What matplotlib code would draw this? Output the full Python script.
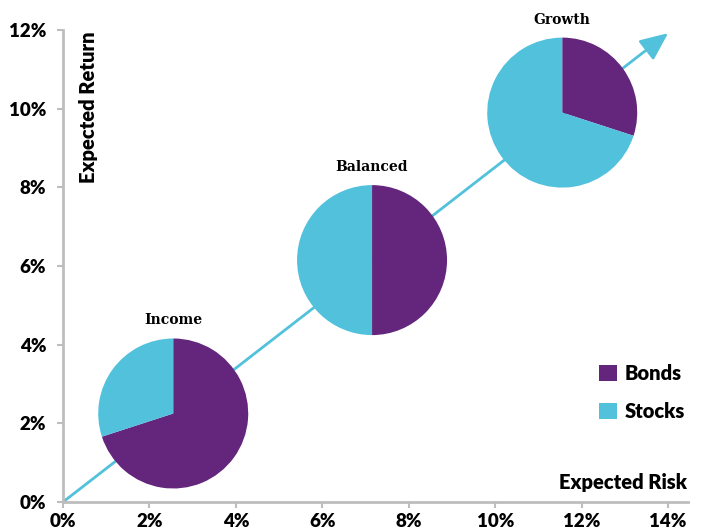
import numpy as np
import matplotlib
matplotlib.use("Agg")
import matplotlib.pyplot as plt
from matplotlib.patches import Wedge, Patch
from matplotlib.transforms import ScaledTranslation

# ── Data ──────────────────────────────────────────────────────────────────
portfolios = ["Income", "Balanced", "Growth"]
risk       = [2.55, 7.15, 11.55]     # expected risk (%)
ret        = [2.25, 6.15, 9.90]      # expected return (%)
bonds      = [70, 50, 30]            # % of portfolio
stocks     = [30, 50, 70]
x_ticks    = [0, 2, 4, 6, 8, 10, 12, 14]
y_ticks    = [0, 2, 4, 6, 8, 10, 12]
arrow_end  = (14.0, 11.92)

PURPLE = '#64257c'
CYAN   = '#52c1dc'
GREY   = '#bdbdbd'
SANS   = 'Lato'
SLAB   = 'DejaVu Serif'

# ── Figure ────────────────────────────────────────────────────────────────
fig = plt.figure(figsize=(7.02, 5.30), dpi=100)
ax = fig.add_axes([63/702, 28/530, 625/702, 472/530])
ax.set_xlim(0, 14.46)
ax.set_ylim(0, 12)

for side in ['top', 'right']:
    ax.spines[side].set_visible(False)
for side in ['left', 'bottom']:
    ax.spines[side].set_color(GREY)
    ax.spines[side].set_linewidth(2)

ax.set_xticks(x_ticks)
ax.set_xticklabels([f'{t}%' for t in x_ticks])
ax.set_yticks(y_ticks)
ax.set_yticklabels([f'{t}%' for t in y_ticks])
ax.tick_params(length=4, width=1.5, color=GREY, labelsize=13.5)
ax.tick_params(axis='y', pad=8)
ax.tick_params(axis='x', pad=4)
for lab in ax.get_xticklabels() + ax.get_yticklabels():
    lab.set_fontfamily(SANS)
    lab.set_fontweight('heavy')

# risk/return arrow
ax.annotate('', xy=arrow_end, xytext=(0, 0),
            arrowprops=dict(arrowstyle='-|>,head_length=1.7,head_width=0.75',
                            color=CYAN, lw=2, shrinkA=0, shrinkB=0),
            annotation_clip=False, zorder=1)

# pies (circular in pixels, centred on data points)
r_in = 0.75
for name, x, y, b, s in zip(portfolios, risk, ret, bonds, stocks):
    tr = fig.dpi_scale_trans + ScaledTranslation(x, y, ax.transData)
    ax.add_patch(Wedge((0, 0), r_in, 90 - 3.6 * b, 90, facecolor=PURPLE,
                       edgecolor='none', transform=tr, zorder=3, clip_on=False))
    ax.add_patch(Wedge((0, 0), r_in, 90, 90 + 3.6 * s, facecolor=CYAN,
                       edgecolor='none', transform=tr, zorder=3, clip_on=False))
    ax.annotate(name, xy=(x, y), xytext=(0, 67), textcoords='offset points',
                ha='center', va='center', fontsize=10, fontweight='bold',
                family=SLAB, annotation_clip=False)

# axis titles
ax.text(88/702, 1 - 107/530, 'Expected Return', transform=fig.transFigure,
        rotation=90, ha='center', va='center', fontsize=14.5,
        fontweight='heavy', family=SANS)
ax.text(687/702, 47/530, 'Expected Risk', transform=fig.transFigure,
        ha='right', va='center', fontsize=14.5, fontweight='heavy', family=SANS)

# legend
handles = [Patch(facecolor=PURPLE, label='Bonds'),
           Patch(facecolor=CYAN, label='Stocks')]
leg = ax.legend(handles=handles, loc='upper right', bbox_to_anchor=(693/702, 1 - 356/530),
                bbox_transform=fig.transFigure, frameon=False,
                handlelength=0.85, handleheight=0.85, handletextpad=0.4,
                labelspacing=0.95, borderaxespad=0,
                prop=dict(family=SANS, weight='heavy', size=14.5))

fig.savefig('out.png', dpi=100)
